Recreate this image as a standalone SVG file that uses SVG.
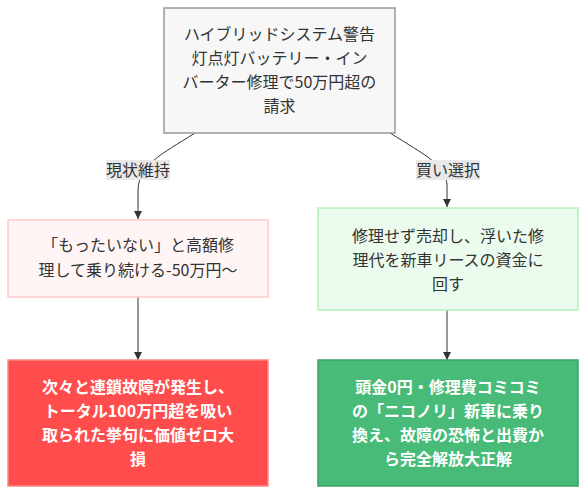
<svg xmlns="http://www.w3.org/2000/svg" width="586" height="494" viewBox="0 0 586 494">
<defs>
<style>
text{font-family:"Noto Sans CJK JP","Noto Sans",sans-serif;font-size:16px;text-anchor:middle;}
.t{fill:#333;}
.w{fill:#fff;font-weight:bold;}
.edge{fill:none;stroke:#333;stroke-width:1;}
.lbl{fill:#e8e8e8;}
</style>
<marker id="arr" viewBox="0 0 10 10" refX="10" refY="5" markerWidth="8" markerHeight="8" markerUnits="userSpaceOnUse" orient="auto">
<path d="M0,0 L10,5 L0,10 z" fill="#333"/>
</marker>
</defs>
<rect width="586" height="494" fill="#fff"/>
<g id="connectors">
<path class="edge" d="M195,133 C160,155 139,165 138,190 L138,219" marker-end="url(#arr)"/>
<path class="edge" d="M390,133 C425,155 446,165 447,185 L447,207" marker-end="url(#arr)"/>
<path class="edge" d="M138,297 L138,360" marker-end="url(#arr)"/>
<path class="edge" d="M447,310 L447,360" marker-end="url(#arr)"/>
<g id="label-left">
<rect class="lbl" x="106" y="160" width="64" height="20"/>
<text class="t" x="138" y="176">現状維持</text>
</g>
<g id="label-right">
<rect class="lbl" x="416" y="160" width="64" height="20"/>
<text class="t" x="448" y="176">買い選択</text>
</g>
</g>
<g id="n-top">
<rect x="164" y="8" width="231" height="125" fill="#f7f7f7" stroke="#999" stroke-width="1.5"/>
<text class="t" x="279.5" y="40">ハイブリッドシステム警告</text>
<text class="t" x="279.5" y="64">灯点灯バッテリー・イン</text>
<text class="t" x="279.5" y="88">バーター修理で50万円超の</text>
<text class="t" x="279.5" y="112">請求</text>
</g>
<g id="n-keep">
<rect x="8" y="220" width="260" height="77" fill="#fff5f5" stroke="#ffc9c9" stroke-width="1.5"/>
<text class="t" x="138" y="251">「もったいない」と高額修</text>
<text class="t" x="138" y="276">理して乗り続ける-50万円〜</text>
</g>
<g id="n-buy">
<rect x="318" y="208" width="260" height="102" fill="#ebfbee" stroke="#b2f2bb" stroke-width="1.5"/>
<text class="t" x="448" y="242">修理せず売却し、浮いた修</text>
<text class="t" x="448" y="266">理代を新車リースの資金に</text>
<text class="t" x="448" y="290">回す</text>
</g>
<g id="n-bad">
<rect x="8" y="360" width="260" height="126" fill="#ff4d4d" stroke="#ff8787" stroke-width="1.5"/>
<text class="w" x="138" y="393">次々と連鎖故障が発生し、</text>
<text class="w" x="138" y="417">トータル100万円超を吸い</text>
<text class="w" x="138" y="441">取られた挙句に価値ゼロ大</text>
<text class="w" x="138" y="465">損</text>
</g>
<g id="n-good">
<rect x="318" y="360" width="260" height="126" fill="#48bb78" stroke="#38a169" stroke-width="1.5"/>
<text class="w" x="448" y="393">頭金0円・修理費コミコミ</text>
<text class="w" x="448" y="417">の「ニコノリ」新車に乗り</text>
<text class="w" x="448" y="441">換え、故障の恐怖と出費か</text>
<text class="w" x="448" y="465">ら完全解放大正解</text>
</g>
</svg>
